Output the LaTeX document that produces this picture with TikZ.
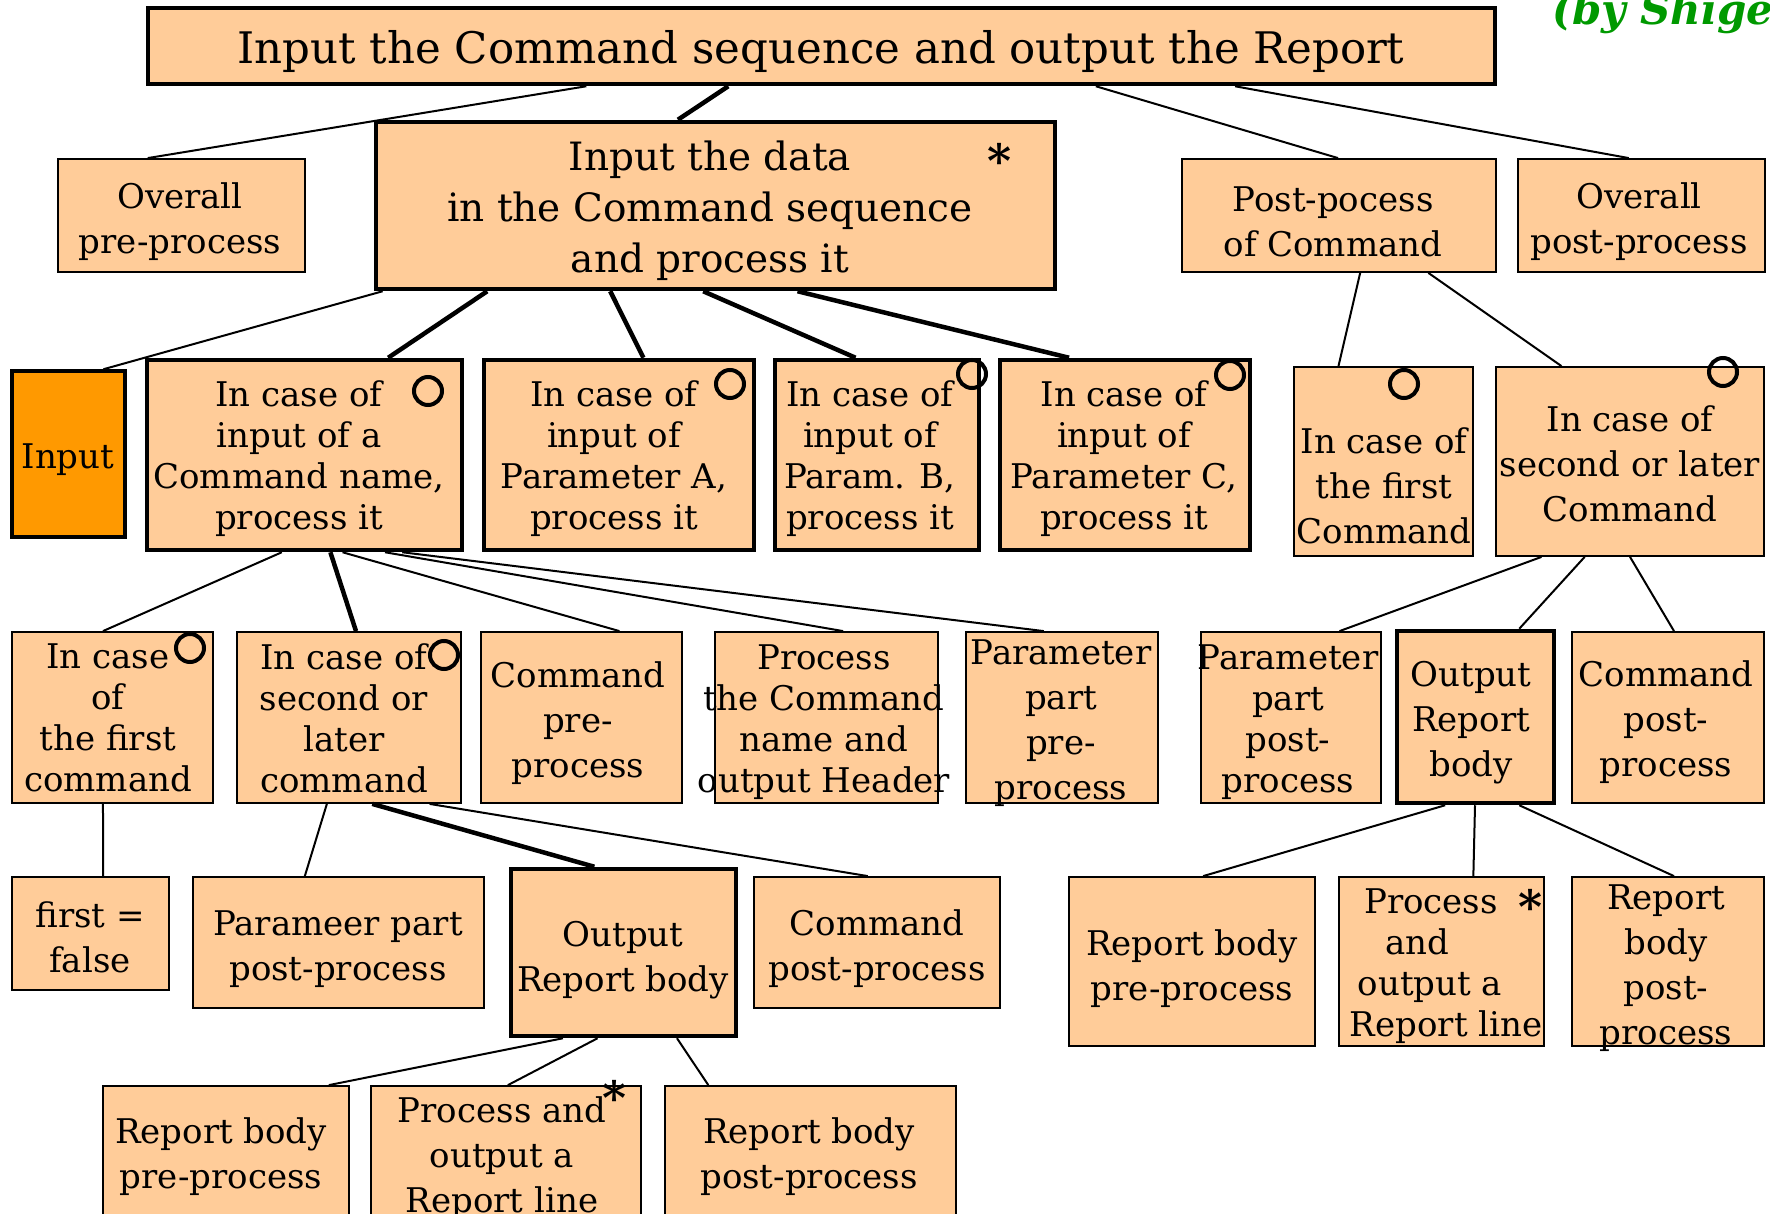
\documentclass[tikz,border=0pt]{standalone}
\usepackage{fontspec}
\setmainfont{DejaVu Serif}
\usetikzlibrary{calc}

\definecolor{peach}{HTML}{FFCC99}
\definecolor{amber}{HTML}{FF9900}
\definecolor{signgreen}{HTML}{009900}

\newcommand\titlefont{\fontsize{43.5}{50}\selectfont}
\newcommand\datafont{\fontsize{39}{51}\selectfont}
\newcommand\tightfont{\fontsize{34}{41}\selectfont}
\newcommand\loosefont{\fontsize{34}{45}\selectfont}

% connect two boxes: bottom edge of #2 at fraction #3 to top edge of #4 at fraction #5
\newcommand\linkboxes[5][link]{%
  \draw[#1] ($(#2.south west)!#3!(#2.south east)$) -- ($(#4.north west)!#5!(#4.north east)$);}

\begin{document}
\begin{tikzpicture}[x=1pt,y=-1pt,
  box/.style={draw, fill=peach, line width=1.8pt, inner sep=0pt},
  boldbox/.style={box, line width=4.5pt},
  txt/.style={inner sep=0pt, align=center, font=\loosefont},
  tight/.style={txt, font=\tightfont},
  ring/.style={circle, draw, line width=4pt, minimum size=28pt, inner sep=0pt},
  starmark/.style={inner sep=0pt, font=\fontsize{46}{46}\bfseries\selectfont},
  link/.style={line width=2pt},
  boldlink/.style={line width=4.5pt}]
\useasboundingbox (0,0) rectangle (1770,1214);

% ---------- level 0 ----------
\node[boldbox, minimum width=1347, minimum height=76] (top) at (821.5,46) {};
\node[txt, font=\titlefont] (top-t) at (821,52) {Input the Command sequence and output the Report};
\node[anchor=base west, inner sep=0pt, text=signgreen, font=\fontsize{42}{42}\bfseries\itshape\selectfont] (sign) at (1552,25) {(by Shigeo};

% ---------- level 1 ----------
\node[box, minimum width=247, minimum height=113] (op) at (181.5,215.5) {};
\node[txt] (op-t) at (180,222) {Overall\\pre-process};
\node[boldbox, minimum width=679, minimum height=167] (data) at (715.5,205.5) {};
\node[txt, font=\datafont] (data-t) at (710,211) {Input the data\\in the Command sequence\\and process it};
\node[starmark] (data-s) at (1000,160) {*};
\node[box, minimum width=314, minimum height=113] (post) at (1339,215.5) {};
\node[txt] (post-t) at (1333,222) {Post-pocess\\of Command};
\node[box, minimum width=247, minimum height=113] (opost) at (1641.5,215.5) {};
\node[txt] (opost-t) at (1639,222) {Overall\\post-process};

% ---------- level 2 ----------
\node[box, fill=amber, line width=3.5pt, minimum width=113, minimum height=166] (inp) at (68.5,454) {};
\node[txt] (inp-t) at (68,460) {Input};
\node[boldbox, minimum width=315, minimum height=190] (cn) at (304.5,455) {};
\node[tight] (cn-t) at (299,459) {In case of\\input of a\\Command name,\\process it};
\node[ring] (cn-o) at (428,391) {};
\node[boldbox, minimum width=270, minimum height=190] (pa) at (619,455) {};
\node[tight] (pa-t) at (614,459) {In case of\\input of\\Parameter A,\\process it};
\node[ring] (pa-o) at (730,384) {};
\node[boldbox, minimum width=204, minimum height=190] (pb) at (877,455) {};
\node[tight] (pb-t) at (870,459) {In case of\\input of\\Param. B,\\process it};
\node[ring] (pb-o) at (972,374) {};
\node[boldbox, minimum width=250, minimum height=190] (pc) at (1125,455) {};
\node[tight] (pc-t) at (1124,459) {In case of\\input of\\Parameter C,\\process it};
\node[ring] (pc-o) at (1230,375) {};
\node[box, minimum width=179, minimum height=189] (fr) at (1383.5,461.5) {};
\node[txt] (fr-t) at (1384,486) {In case of\\the first\\Command};
\node[ring] (fr-o) at (1404,384) {};
\node[box, minimum width=268, minimum height=189] (sr) at (1630,461.5) {};
\node[txt] (sr-t) at (1630,464) {In case of\\second or later\\Command};
\node[ring] (sr-o) at (1723,372) {};

% ---------- level 3 ----------
\node[box, minimum width=201, minimum height=171] (lfirst) at (112.5,717.5) {};
\node[tight] (lfirst-t) at (108,718) {In case\\of\\the first\\command};
\node[ring] (lfirst-o) at (190,648) {};
\node[box, minimum width=224, minimum height=171] (llater) at (349,717.5) {};
\node[tight] (llater-t) at (344,718) {In case of\\second or\\later\\command};
\node[ring] (llater-o) at (444,655) {};
\node[box, minimum width=201, minimum height=171] (cpre) at (581.5,717.5) {};
\node[txt] (cpre-t) at (578,723) {Command\\pre-\\process};
\node[box, minimum width=223, minimum height=171] (phead) at (826.5,717.5) {};
\node[tight] (phead-t) at (824,722) {Process\\the Command\\name and\\output Header};
\node[box, minimum width=192, minimum height=171] (ppre) at (1062,717.5) {};
\node[txt] (ppre-t) at (1061,723) {Parameter\\part\\pre-\\process};
\node[box, minimum width=180, minimum height=171] (ppost) at (1291,717.5) {};
\node[tight] (ppost-t) at (1288,722) {Parameter\\part\\post-\\process};
\node[boldbox, minimum width=157, minimum height=172] (orb) at (1475.5,717) {};
\node[txt] (orb-t) at (1471,723) {Output\\Report\\body};
\node[box, minimum width=192, minimum height=171] (cpostr) at (1668,717.5) {};
\node[txt] (cpostr-t) at (1666,722) {Command\\post-\\process};

% ---------- level 4 ----------
\node[box, minimum width=157, minimum height=113] (ff) at (90.5,933.5) {};
\node[txt] (ff-t) at (90,937) {first =\\false};
\node[box, minimum width=291, minimum height=131] (ppp) at (338.5,942.5) {};
\node[txt] (ppp-t) at (338,949) {Parameer part\\post-process};
\node[boldbox, minimum width=225, minimum height=167] (orbm) at (623.5,952.5) {};
\node[txt] (orbm-t) at (623,960) {Output\\Report body};
\node[box, minimum width=246, minimum height=131] (cpm) at (877,942.5) {};
\node[txt] (cpm-t) at (877,949) {Command\\post-process};
\node[box, minimum width=246, minimum height=169] (rbprer) at (1192,961.5) {};
\node[txt] (rbprer-t) at (1192,969) {Report body\\pre-process};
\node[box, minimum width=205, minimum height=169] (porr) at (1441.5,961.5) {};
\node[tight] (porr-t) at (1446,966) {Process\makebox[30pt]{}\\and\makebox[58pt]{}\\output a\makebox[32pt]{}\\Report line};
\node[starmark] (porr-s) at (1531,906) {*};
\node[box, minimum width=192, minimum height=169] (rbpostr) at (1668,961.5) {};
\node[txt] (rbpostr-t) at (1666,968) {Report\\body\\post-\\process};

% ---------- level 5 ----------
\node[box, minimum width=246, minimum height=170] (rbprem) at (226,1171) {};
\node[txt] (rbprem-t) at (221,1157) {Report body\\pre-process};
\node[box, minimum width=270, minimum height=170] (porm) at (506,1171) {};
\node[txt] (porm-t) at (502,1158) {Process and\\output a\\Report line};
\node[starmark] (porm-s) at (615,1097) {*};
\node[box, minimum width=291, minimum height=170] (rbpostm) at (810.5,1171) {};
\node[txt] (rbpostm-t) at (809,1157) {Report body\\post-process};

% ---------- connectors ----------
\linkboxes{top}{0.326}{op}{0.364}
\linkboxes[boldlink]{top}{0.431}{data}{0.445}
\linkboxes{top}{0.703}{post}{0.497}
\linkboxes{top}{0.806}{opost}{0.449}
\linkboxes{data}{0.013}{inp}{0.8}
\linkboxes[boldlink]{data}{0.166}{cn}{0.762}
\linkboxes[boldlink]{data}{0.346}{pa}{0.589}
\linkboxes[boldlink]{data}{0.482}{pb}{0.397}
\linkboxes[boldlink]{data}{0.620}{pc}{0.28}
\linkboxes{post}{0.567}{fr}{0.251}
\linkboxes{post}{0.783}{sr}{0.246}
\linkboxes{cn}{0.429}{lfirst}{0.453}
\linkboxes[boldlink]{cn}{0.581}{llater}{0.531}
\linkboxes{cn}{0.619}{cpre}{0.687}
\linkboxes{cn}{0.752}{phead}{0.574}
\linkboxes{cn}{0.806}{ppre}{0.406}
\linkboxes{sr}{0.172}{ppost}{0.767}
\linkboxes{sr}{0.332}{orb}{0.771}
\linkboxes{sr}{0.5}{cpostr}{0.531}
\linkboxes{lfirst}{0.453}{ff}{0.58}
\linkboxes{llater}{0.402}{ppp}{0.385}
\linkboxes[boldlink]{llater}{0.603}{orbm}{0.373}
\linkboxes{llater}{0.857}{cpm}{0.463}
\linkboxes{orb}{0.312}{rbprer}{0.545}
\linkboxes{orb}{0.497}{porr}{0.654}
\linkboxes{orb}{0.771}{rbpostr}{0.531}
\linkboxes{orbm}{0.236}{rbprem}{0.915}
\linkboxes{orbm}{0.387}{porm}{0.507}
\linkboxes{orbm}{0.733}{rbpostm}{0.151}
\end{tikzpicture}
\end{document}
